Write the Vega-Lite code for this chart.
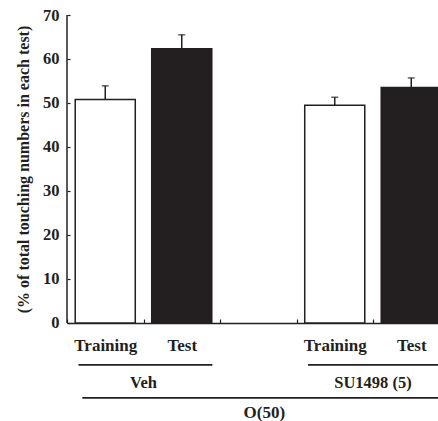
{
  "$schema": "https://vega.github.io/schema/vega-lite/v6.json",
  "width": 371,
  "height": 406,
  "autosize": {"type": "none"},
  "padding": {"left": 67, "top": 15, "right": 0, "bottom": 0},
  "background": "white",
  "config": {"view": {"stroke": null}, "font": "Liberation Serif", "axis": {"grid": false}},
  "datasets": {
    "bars": [
      {"bar": "Veh Training", "group": "Veh", "condition": "Training", "value": 50.8, "upper": 53.9},
      {"bar": "Veh Test", "group": "Veh", "condition": "Test", "value": 62.3, "upper": 65.5},
      {"bar": "SU1498 Training", "group": "SU1498 (5)", "condition": "Training", "value": 49.5, "upper": 51.3},
      {"bar": "SU1498 Test", "group": "SU1498 (5)", "condition": "Test", "value": 53.5, "upper": 55.7}
    ],
    "groups": [
      {"label": "Veh", "from": "Veh Training", "to": "Veh Test"},
      {"label": "SU1498 (5)", "from": "SU1498 Training", "to": "SU1498 Test"}
    ],
    "outer": [
      {"label": "O(50)", "from": "Veh Training", "to": "SU1498 Test", "middle": " "}
    ]
  },
  "layer": [
    {
      "data": {"name": "bars"},
      "mark": {"type": "bar", "clip": true, "stroke": "#231f20", "strokeWidth": 1.5, "width": {"band": 0.785}},
      "encoding": {
        "x": {
          "field": "bar", "type": "nominal",
          "scale": {"domain": ["Veh Training", "Veh Test", " ", "SU1498 Training", "SU1498 Test"], "range": [0, 382.5], "paddingInner": 0, "paddingOuter": 0},
          "axis": {
            "title": null, "tickBand": "extent", "offset": -98, "domain": true, "domainColor": "#231f20", "domainWidth": 1.5,
            "tickSize": -4, "tickWidth": 1.2, "tickColor": "#231f20", "labelPadding": 18, "labelAngle": 0,
            "labelExpr": "replace(replace(datum.label, 'Veh ', ''), 'SU1498 ', '')",
            "labelFont": "Liberation Serif", "labelFontSize": 17, "labelFontWeight": "bold", "labelColor": "#231f20"
          }
        },
        "y": {
          "field": "value", "type": "quantitative",
          "scale": {"domain": [-22.3, 70], "nice": false, "zero": false},
          "axis": {
            "values": [0, 10, 20, 30, 40, 50, 60, 70], "domain": false, "tickSize": -3, "tickWidth": 1.2, "tickColor": "#231f20",
            "labelPadding": 11, "labelFont": "Liberation Serif", "labelFontSize": 16.5, "labelFontWeight": "bold", "labelColor": "#231f20",
            "title": "(% of total touching numbers in each test)", "titleFont": "Liberation Serif", "titleFontSize": 16,
            "titleFontWeight": "bold", "titleColor": "#231f20", "titleY": 154, "titlePadding": 11
          }
        },
        "y2": {"datum": 0},
        "fill": {"field": "condition", "type": "nominal", "scale": {"domain": ["Training", "Test"], "range": ["white", "#231f20"]}, "legend": null}
      }
    },
    {
      "data": {"name": "bars"},
      "mark": {"type": "rule", "clip": true, "color": "#231f20", "strokeWidth": 1.5},
      "encoding": {
        "x": {"field": "bar", "type": "nominal"},
        "y": {"field": "value", "type": "quantitative"},
        "y2": {"field": "upper"}
      }
    },
    {
      "data": {"name": "bars"},
      "mark": {"type": "tick", "clip": true, "color": "#231f20", "size": 7, "thickness": 1.5},
      "encoding": {
        "x": {"field": "bar", "type": "nominal"},
        "y": {"field": "upper", "type": "quantitative"}
      }
    },
    {
      "data": {"values": [{}]},
      "mark": {"type": "rule", "color": "#231f20", "strokeWidth": 1.5},
      "encoding": {
        "x": {"datum": "Veh Training", "type": "nominal", "bandPosition": 0},
        "y": {"datum": 0, "type": "quantitative"},
        "y2": {"datum": 70}
      }
    },
    {
      "data": {"name": "groups"},
      "mark": {"type": "rule", "clip": true, "color": "#231f20", "strokeWidth": 1.8},
      "encoding": {
        "x": {"field": "from", "type": "nominal", "bandPosition": 0.15},
        "x2": {"field": "to", "bandPosition": 0.9},
        "y": {"datum": -9.55, "type": "quantitative"}
      }
    },
    {
      "data": {"name": "groups"},
      "mark": {"type": "text", "clip": true, "color": "#231f20", "font": "Liberation Serif", "fontWeight": "bold", "fontSize": 16.5, "baseline": "middle"},
      "encoding": {
        "x": {"field": "to", "type": "nominal", "bandPosition": 0},
        "y": {"datum": -13.75, "type": "quantitative"},
        "text": {"field": "label"}
      }
    },
    {
      "data": {"name": "outer"},
      "mark": {"type": "rule", "clip": true, "color": "#231f20", "strokeWidth": 1.8},
      "encoding": {
        "x": {"field": "from", "type": "nominal", "bandPosition": 0.2},
        "x2": {"field": "to", "bandPosition": 1},
        "y": {"datum": -17.05, "type": "quantitative"}
      }
    },
    {
      "data": {"name": "outer"},
      "mark": {"type": "text", "clip": true, "color": "#231f20", "font": "Liberation Serif", "fontWeight": "bold", "fontSize": 17, "baseline": "middle"},
      "encoding": {
        "x": {"field": "middle", "type": "nominal", "bandPosition": 0.58},
        "y": {"datum": -20.45, "type": "quantitative"},
        "text": {"field": "label"}
      }
    }
  ]
}
